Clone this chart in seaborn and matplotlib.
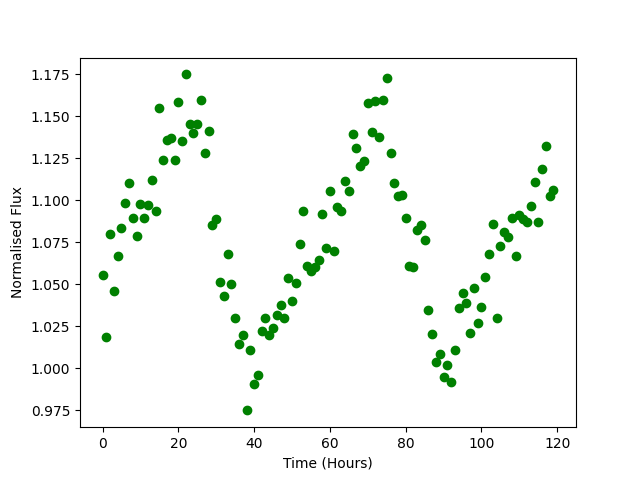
import numpy as np
import matplotlib
matplotlib.use("Agg")
import matplotlib.pyplot as plt
import seaborn as sns

# time of each reading (hours)
hours = [
    0, 1, 2, 3, 4, 5, 6, 7, 8, 9, 10, 11, 12, 13, 14, 15, 16, 17, 18, 19,
    20, 21, 22, 23, 24, 25, 26, 27, 28, 29, 30, 31, 32, 33, 34, 35, 36, 37, 38, 39,
    40, 41, 42, 43, 44, 45, 46, 47, 48, 49, 50, 51, 52, 53, 54, 55, 56, 57, 58, 59,
    60, 61, 62, 63, 64, 65, 66, 67, 68, 69, 70, 71, 72, 73, 74, 75, 76, 77, 78, 79,
    80, 81, 82, 83, 84, 85, 86, 87, 88, 89, 90, 91, 92, 93, 94, 95, 96, 97, 98, 99,
    100, 101, 102, 103, 104, 105, 106, 107, 108, 109, 110, 111, 112, 113, 114, 115,
    116, 117, 118, 119,
]

# normalised flux
flux = [
    1.0552, 1.0183, 1.0798, 1.0456, 1.0665, 1.0831, 1.0980, 1.1099, 1.0891, 1.0784,
    1.0974, 1.0891, 1.0968, 1.1117, 1.0933, 1.1546, 1.1236, 1.1355, 1.1367, 1.1236,
    1.1581, 1.1349, 1.1748, 1.1450, 1.1397, 1.1450, 1.1593, 1.1278, 1.1409, 1.0849,
    1.0885, 1.0510, 1.0427, 1.0677, 1.0498, 1.0296, 1.0141, 1.0194, 0.9748, 1.0105,
    0.9903, 0.9956, 1.0218, 1.0296, 1.0194, 1.0236, 1.0313, 1.0373, 1.0296, 1.0534,
    1.0397, 1.0504, 1.0736, 1.0933, 1.0605, 1.0575, 1.0599, 1.0641, 1.0915, 1.0712,
    1.1052, 1.0694, 1.0956, 1.0933, 1.1111, 1.1052, 1.1391, 1.1308, 1.1200, 1.1230,
    1.1575, 1.1403, 1.1587, 1.1373, 1.1593, 1.1724, 1.1278, 1.1099, 1.1022, 1.1028,
    1.0891, 1.0605, 1.0599, 1.0819, 1.0849, 1.0760, 1.0343, 1.0200, 1.0034, 1.0081,
    0.9944, 1.0016, 0.9915, 1.0105, 1.0355, 1.0444, 1.0385, 1.0206, 1.0474, 1.0266,
    1.0361, 1.0540, 1.0677, 1.0855, 1.0296, 1.0724, 1.0808, 1.0778, 1.0891, 1.0665,
    1.0909, 1.0885, 1.0867, 1.0962, 1.1105, 1.0867, 1.1183, 1.1319, 1.1022, 1.1062,
]

fig, ax = plt.subplots(figsize=(6.4, 4.8), dpi=100)
sns.scatterplot(x=hours, y=flux, color="green", s=36, edgecolor="green",
                linewidth=1, ax=ax)
ax.set_xlabel("Time (Hours)")
ax.set_ylabel("Normalised Flux")
plt.savefig("out.png", dpi=100)
